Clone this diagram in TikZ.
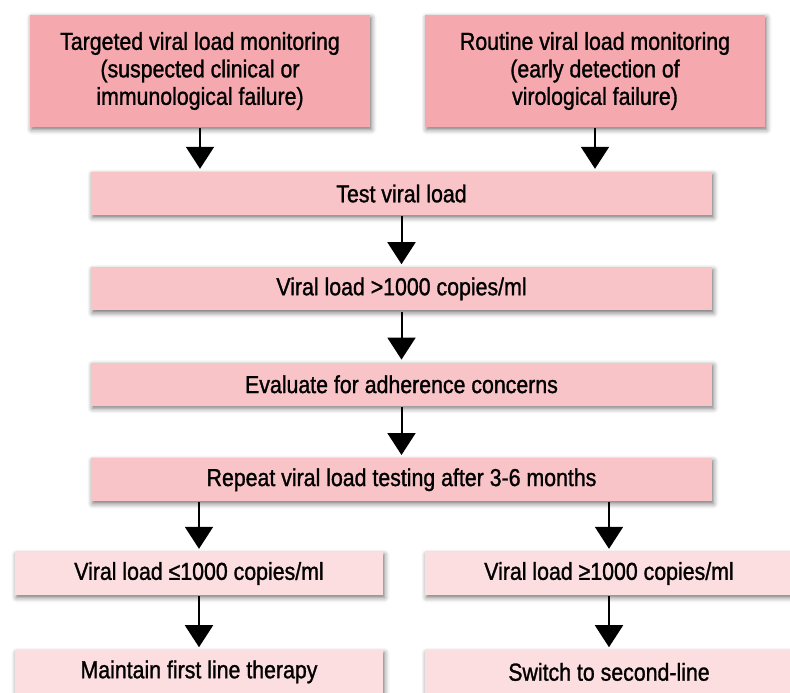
\documentclass[tikz,border=0pt]{standalone}
\usepackage{fontspec}
\setmainfont{Liberation Sans}[FakeStretch=0.87, FakeBold=1.2]
\definecolor{monpink}{RGB}{245,169,174}
\definecolor{steppink}{RGB}{249,196,200}
\definecolor{endpink}{RGB}{252,221,224}
\usepackage{tikz}
\usetikzlibrary{positioning, arrows.meta, shadows.blur}
\tikzset{
  flowbox/.style={inner sep=0pt, align=center, font=\fontsize{24.5}{27.5}\selectfont,
    blur shadow={shadow xshift=1.5pt, shadow yshift=-2.5pt, shadow blur radius=5pt, shadow opacity=55}},
  monbox/.style={flowbox, fill=monpink, minimum width=340pt, minimum height=112pt},
  stepbox/.style={flowbox, fill=steppink, minimum width=621pt, minimum height=43pt},
  endbox/.style={flowbox, fill=endpink, minimum width=368pt, minimum height=43pt},
  flowarrow/.style={-{Triangle[width=28pt, length=22pt]}, line width=2pt, shorten <=1pt, shorten >=3pt}
}

\begin{document}
\begin{tikzpicture}[x=1pt, y=-1pt, node distance=52pt]
  \useasboundingbox (0,0) rectangle (790,693);
  % monitoring entry points
  \node[monbox] (tgt) at (200,71) {Targeted viral load monitoring\\(suspected clinical or\\immunological failure)};
  \node[monbox] (rtn) at (595,71) {Routine viral load monitoring\\(early detection of\\virological failure)};
  % main chain
  \node[stepbox] (test) at (401.5,193.5) {Test viral load};
  \node[stepbox, below=of test] (vlhigh) {Viral load >1000 copies/ml};
  \node[stepbox, below=of vlhigh] (adher) {Evaluate for adherence concerns};
  \node[stepbox, below=of adher] (repeat) {Repeat viral load testing after 3-6 months};
  % outcomes
  \node[endbox] (lowvl) at (199,573.5) {Viral load ≤1000 copies/ml};
  \node[endbox] (highvl) at (609,573.5) {Viral load ≥1000 copies/ml};
  \node[endbox, below=55pt of lowvl] (first) {Maintain first line therapy};
  \node[endbox, below=55pt of highvl] (second) {Switch to second-line};
  \draw[flowarrow] (tgt.south) -- (tgt.south |- test.north);
  \draw[flowarrow] (rtn.south) -- (rtn.south |- test.north);
  \draw[flowarrow] (test) -- (vlhigh);
  \draw[flowarrow] (vlhigh) -- (adher);
  \draw[flowarrow] (adher) -- (repeat);
  \draw[flowarrow] (repeat.south -| lowvl) -- (lowvl);
  \draw[flowarrow] (repeat.south -| highvl) -- (highvl);
  \draw[flowarrow] (lowvl) -- (first);
  \draw[flowarrow] (highvl) -- (second);
\end{tikzpicture}
\end{document}
